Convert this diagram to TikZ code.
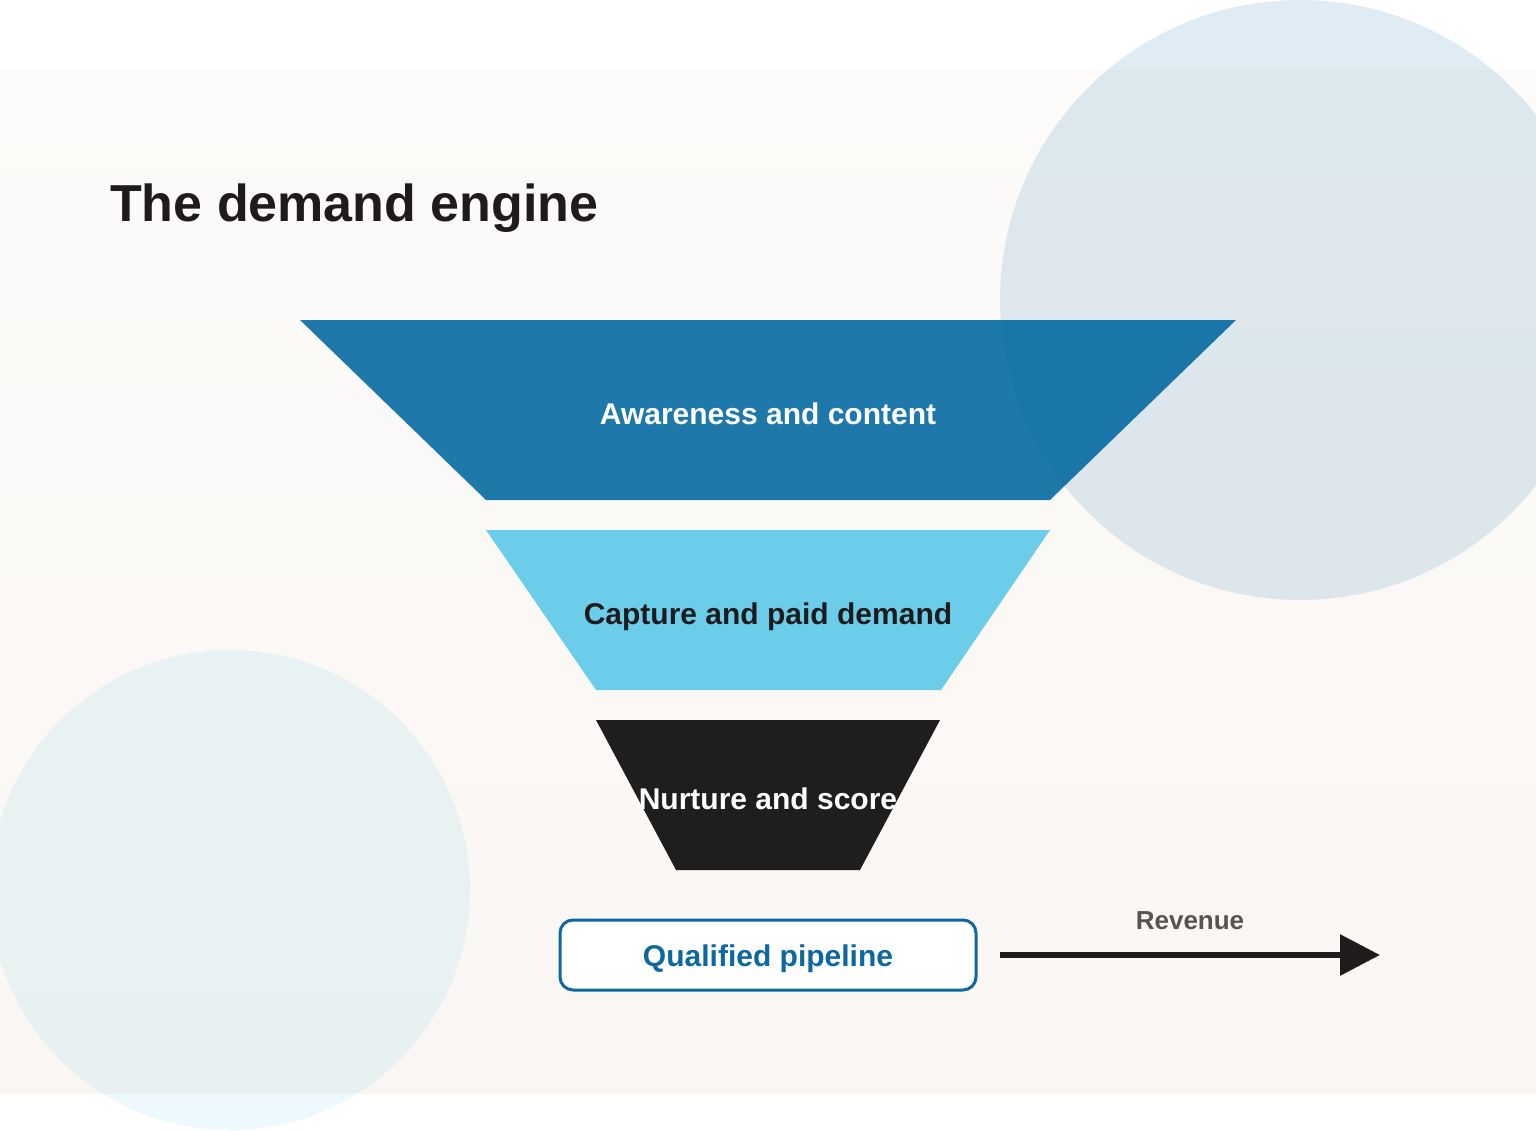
\documentclass[tikz,border=0pt]{standalone}
\usepackage{fontspec}
\setmainfont{Liberation Sans}
\usetikzlibrary{arrows.meta}
\definecolor{bandtop}{HTML}{FCFBF9}
\definecolor{bandbot}{HTML}{FAF6F3}
\definecolor{awblue}{HTML}{1E78AA}
\definecolor{capblue}{HTML}{6CCDEB}
\definecolor{nurdark}{HTML}{201D1E}
\definecolor{ink}{HTML}{1F1B1C}
\definecolor{pipeblue}{HTML}{0E68A0}
\definecolor{revgrey}{HTML}{595350}
\definecolor{circA}{HTML}{0064A0}
\definecolor{circB}{HTML}{4FC6E6}
\tikzset{
  stagetext/.style={font=\fontsize{30}{36}\selectfont\bfseries, anchor=base, inner sep=0pt},
  pipebox/.style={draw=pipeblue, line width=3pt, fill=white, rounded corners=13pt,
    minimum width=416pt, minimum height=70pt, inner sep=0pt,
    text height=28pt, text depth=6pt,
    text=pipeblue, font=\fontsize{30}{36}\selectfont\bfseries},
  revarrow/.style={draw=ink, line width=6pt, -{Triangle[length=40pt,width=40pt]}},
}
\begin{document}
\begin{tikzpicture}[x=1pt,y=-1pt]
\useasboundingbox (0,0) rectangle (1536,1130);
\fill[white] (0,0) rectangle (1536,1130);
\shade[top color=bandtop, bottom color=bandbot] (0,70) rectangle (1536,1093);
% funnel stages
\fill[awblue] (300,320) -- (1236,320) -- (1050,500) -- (486,500) -- cycle;
\fill[capblue] (486,530) -- (1050,530) -- (941,690) -- (596,690) -- cycle;
\fill[nurdark] (596,720) -- (940,720) -- (860,870) -- (676,870) -- cycle;
% decorative circles
\fill[circA, opacity=0.12] (1300,300) circle[radius=300];
\fill[circB, opacity=0.10] (230,890) circle[radius=240];
% title
\node[anchor=base west, inner sep=0pt, text=ink, font=\fontsize{52}{60}\selectfont\bfseries]
  (title) at (110,221) {The demand engine};
% stage labels
\node[stagetext, text=white] (aw) at (768,424) {Awareness and content};
\node[stagetext, text=ink] (cap) at (768,624) {Capture and paid demand};
\node[stagetext, text=white] (nur) at (768,809) {Nurture and score};
% pipeline
\node[pipebox] (pipe) at (768,955) {Qualified pipeline};
% revenue arrow
\coordinate (revstart) at (1000,955);
\coordinate (revend) at (1380,955);
\draw[revarrow] (revstart) -- (revend);
\node[anchor=base, inner sep=0pt, text=revgrey, font=\fontsize{26}{30}\selectfont\bfseries]
  (rev) at (1190,929) {Revenue};
\end{tikzpicture}
\end{document}
